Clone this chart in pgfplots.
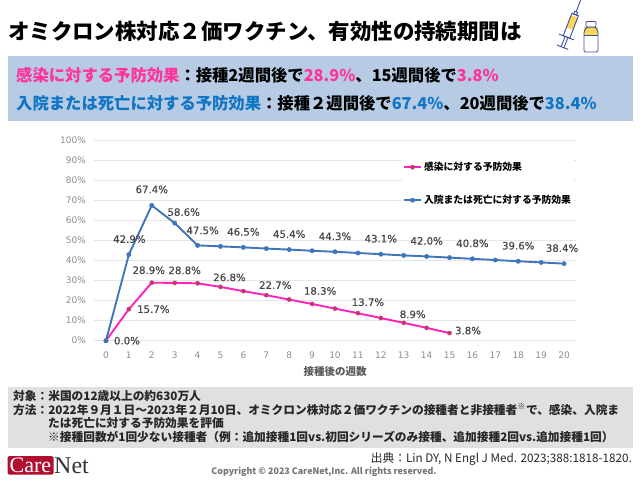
\documentclass[border=0pt]{standalone}
\usepackage{pgfplots}
\pgfplotsset{compat=1.18}
\usepackage{fontspec}
\setmainfont{Noto Sans CJK JP}
\newfontfamily\latinfont{DejaVu Sans}
\newfontfamily\labelfont[FakeBold=0.5]{DejaVu Sans}
\newfontfamily\logofont{Liberation Serif}
\definecolor{pinkline}{HTML}{FF22BB}
\definecolor{pinkmark}{HTML}{C8386F}
\definecolor{blueline}{HTML}{3F75B9}
\definecolor{bandblue}{HTML}{B7CCE4}
\definecolor{boxgray}{HTML}{E0E0E0}
\definecolor{hotpink}{HTML}{FF3399}
\definecolor{textblue}{HTML}{0F75C4}
\definecolor{logored}{HTML}{B01030}
\definecolor{iconblue}{HTML}{3F4F9F}
\definecolor{iconyellow}{HTML}{F7D65A}

% effectiveness, week by week
\pgfplotstableread{
x y
0 0
1 15.7
2 28.9
3 28.8
4 28.6
5 26.8
6 24.7
7 22.7
8 20.5
9 18.3
10 16.0
11 13.7
12 11.3
13 8.9
14 6.4
15 3.8
}\infection
\pgfplotstableread{
x y
0 0
1 42.9
2 67.4
3 58.6
4 47.5
5 47.0
6 46.5
7 45.9
8 45.4
9 44.8
10 44.3
11 43.7
12 43.1
13 42.5
14 42.0
15 41.4
16 40.8
17 40.2
18 39.6
19 39.0
20 38.4
}\hospital
% labelled points with label offset in px
\pgfplotstableread{
x y dx dy
1 15.7 24.5 0
2 28.9 -3 12.5
3 28.8 10 12.5
5 26.8 9 9.5
7 22.7 9 10
9 18.3 8 13
11 13.7 10 11
13 8.9 9 8.5
15 3.8 18.5 2.5
}\infectionlabels
\pgfplotstableread{
x y dx dy
0 0 21 0
1 42.9 0.5 15.5
2 67.4 0 16
3 58.6 9 11
4 47.5 5 15
6 46.5 0 15.5
8 45.4 0 15.5
10 44.3 0 15.5
12 43.1 0 15.5
14 42.0 0 15.5
16 40.8 0 15.5
18 39.6 0 15.5
20 38.4 -2 15.5
}\hospitallabels

\begin{document}
\begin{tikzpicture}[x=1pt,y=1pt]
\path[use as bounding box] (0,0) rectangle (640,480);
\node[anchor=west,inner sep=0pt,font=\fontsize{21.45}{24}\selectfont\bfseries] at (8,449) {オミクロン株対応２価ワクチン、有効性の持続期間は};

% syringe and vial
\begin{scope}[line width=0.9pt,draw=iconblue]
\begin{scope}[shift={(566.5,443)},rotate=-21]
\fill[iconyellow] (-3.5,9) rectangle (3.5,22);
\draw (-3.5,0) rectangle (3.5,24);
\draw (-1.5,24) rectangle (1.5,27);
\draw (0,27) -- (0,40);
\draw (-1.5,0) -- (-1.5,-11) (1.5,0) -- (1.5,-11);
\draw (-8,0) -- (8,0);
\draw (-6,-11) -- (6,-11);
\end{scope}
\fill[iconyellow] (584,445) rectangle (598,453);
\draw[rounded corners=1.5pt] (584,428) -- (584,449) -- (587,453) -- (595,453) -- (598,449) -- (598,428) -- cycle;
\draw[fill=white,rounded corners=1pt] (586,453) rectangle (596,458.5);
\draw (584,445) -- (598,445);
\end{scope}

% bands
\fill[bandblue] (8.3,359) rectangle (632.7,424);
\fill[boxgray] (8.3,32) rectangle (632.7,93);

\node[anchor=west,inner sep=0pt,font=\fontsize{16.33}{18}\selectfont\bfseries] at (16,405) {\textcolor{hotpink}{感染に対する予防効果}：接種2週間後で\textcolor{hotpink}{28.9\%}、15週間後で\textcolor{hotpink}{3.8\%}};
\node[anchor=west,inner sep=0pt,font=\fontsize{16.33}{18}\selectfont\bfseries] at (16,377) {\textcolor{textblue}{入院または死亡に対する予防効果}：接種２週間後で\textcolor{textblue}{67.4\%}、20週間後で\textcolor{textblue}{38.4\%}};

\begin{axis}[
  at={(94.5pt,139.3pt)},anchor=south west,
  width=481pt,height=200.7pt,scale only axis,
  xmin=-0.5,xmax=20.5,ymin=0,ymax=100,
  xtick={0,1,...,20},ytick={0,10,...,100},
  yticklabel={\pgfmathprintnumber{\tick}\%},
  /pgf/number format/assume math mode=true,
  axis x line*=bottom,axis y line*=left,
  axis line style={draw=none},
  major tick length=0pt,
  ymajorgrids,
  grid style={draw=black!10,line width=0.8pt},
  ticklabel style={font=\latinfont\fontsize{9}{10}\selectfont,text=black!45},
  xticklabel style={yshift=-8pt},
  yticklabel style={xshift=-5pt},
  xlabel={接種後の週数},
  xlabel style={font=\fontsize{10.5}{12}\selectfont\bfseries,text=black!65,yshift=-1pt},
  legend style={at={(0.639,0.95)},anchor=north west,draw=none,fill=white,
    inner xsep=1pt,inner ysep=10pt,row sep=19pt,
    font=\fontsize{9.8}{11}\selectfont\bfseries,
    /tikz/every even column/.append style={column sep=0pt}},
  legend cell align=left,
  clip=false,
  every axis plot post/.append style={line join=round},
  labelled/.style={only marks,mark=none,forget plot,
    point meta=y,
    visualization depends on={\thisrow{dx} \as \labeldx},
    visualization depends on={\thisrow{dy} \as \labeldy},
    nodes near coords={\pgfmathprintnumber[fixed,fixed zerofill,precision=1]{\pgfplotspointmeta}\%},
    nodes near coords align=center,
    every node near coord/.append style={font=\labelfont\fontsize{10.2}{11}\selectfont,text=black!72,
      inner sep=0pt,xshift=\labeldx pt,yshift=\labeldy pt}},
]
\addplot[color=pinkline,line width=1.9pt,mark=*,mark size=2.1pt,mark options={fill=pinkmark,draw=pinkmark,line width=0.4pt}] table[x=x,y=y] {\infection};
\addlegendentry{感染に対する予防効果}
\addplot[color=blueline,line width=1.9pt,mark=*,mark size=2.2pt,mark options={fill=blueline,draw=blueline,line width=0.4pt}] table[x=x,y=y] {\hospital};
\addlegendentry{入院または死亡に対する予防効果}
\addplot[labelled] table[x=x,y=y] {\infectionlabels};
\addplot[labelled] table[x=x,y=y] {\hospitallabels};
\end{axis}

% footer text
\begin{scope}[every node/.style={anchor=base west,inner sep=0pt,font=\fontsize{11.7}{13}\selectfont\bfseries,text=black!85}]
\node at (13,80) {対象：米国の12歳以上の約630万人};
\node at (13,66) {方法：2022年９月１日～2023年２月10日、オミクロン株対応２価ワクチンの接種者と非接種者\textsuperscript{※}で、感染、入院ま};
\node at (48,52.5) {たは死亡に対する予防効果を評価};
\node at (48,39) {※接種回数が1回少ない接種者（例：追加接種1回vs.初回シリーズのみ接種、追加接種2回vs.追加接種1回）};
\end{scope}
\node[anchor=base east,inner sep=0pt,font=\fontsize{11.7}{13}\selectfont,text=black!85] at (632,18) {出典：Lin DY, N Engl J Med. 2023;388:1818-1820.};
\node[anchor=base,inner sep=0pt,font=\fontsize{8.9}{10}\selectfont\bfseries,text=black!55] at (324,5.5) {Copyright © 2023 CareNet,Inc. All rights reserved.};

% logo
\fill[logored,rounded corners=1.5pt] (7.5,5.5) rectangle (53.5,24);
\node[anchor=base west,inner sep=0pt,font=\logofont\fontsize{22}{24}\selectfont,text=white] at (9.5,8) {Care};
\node[anchor=base west,inner sep=0pt,font=\logofont\fontsize{24}{26}\selectfont,text=black!80] at (54,7) {Net};
\end{tikzpicture}
\end{document}
